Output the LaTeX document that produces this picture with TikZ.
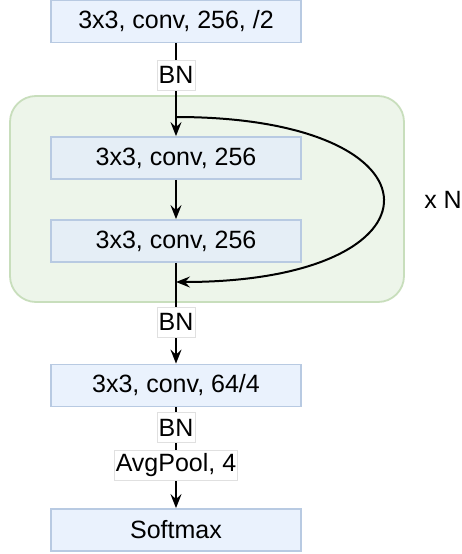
\documentclass[tikz,border=0pt]{standalone}
\usepackage{fontspec}
\setmainfont{Liberation Sans}
\usetikzlibrary{arrows.meta}
\definecolor{boxfill}{RGB}{234,242,253}
\definecolor{boxinfill}{RGB}{229,238,246}
\definecolor{boxline}{RGB}{184,202,226}
\definecolor{grfill}{RGB}{237,245,234}
\definecolor{grline}{RGB}{200,222,188}
\tikzset{
  blk/.style={draw=boxline, line width=1.8pt, fill=boxfill, minimum width=250pt, minimum height=42pt, inner sep=0pt, font=\fontsize{25}{29}\selectfont},
  blkin/.style={blk, fill=boxinfill},
  lbl/.style={draw=black!12, line width=0.6pt, fill=white, inner xsep=1.5pt, inner ysep=0pt, minimum height=30pt, font=\fontsize{25}{29}\selectfont},
  arr/.style={line width=2pt, -{Stealth[length=14pt,width=11pt,inset=5pt]}}
}
\begin{document}
\begin{tikzpicture}[x=1pt,y=-1pt]
\useasboundingbox (0,0) rectangle (462,554);
\node[draw=grline, line width=1.8pt, fill=grfill, rounded corners=26pt, minimum width=394pt, minimum height=206pt] (grp) at (207,199) {};
\node[blk] (top) at (176,21.5) {3x3, conv, 256, /2};
\node[blkin] (b1) at (176,158) {3x3, conv, 256};
\node[blkin] (b2) at (176,241) {3x3, conv, 256};
\node[blk] (b3) at (176,385.5) {3x3, conv, 64/4};
\node[blk] (sm) at (176,530) {Softmax};
\node[font=\fontsize{25}{29}\selectfont] (xn) at (443,200) {x N};
\coordinate (ls) at (176,117);
\coordinate (le) at (176,282);
\draw[arr] (top) -- node[lbl, pos=0.34] (bn1) {BN} (b1);
\draw[arr] (b1) -- (b2);
\draw[arr] (b2) -- node[lbl, pos=0.59] (bn2) {BN} (b3);
\draw[arr] (b3) -- node[lbl, pos=0.2] (bn3) {BN} node[lbl, pos=0.57] (ap) {AvgPool, 4} (sm);
\draw[arr] (ls) .. controls (452,117) and (452,282) .. (le);
\end{tikzpicture}
\end{document}
